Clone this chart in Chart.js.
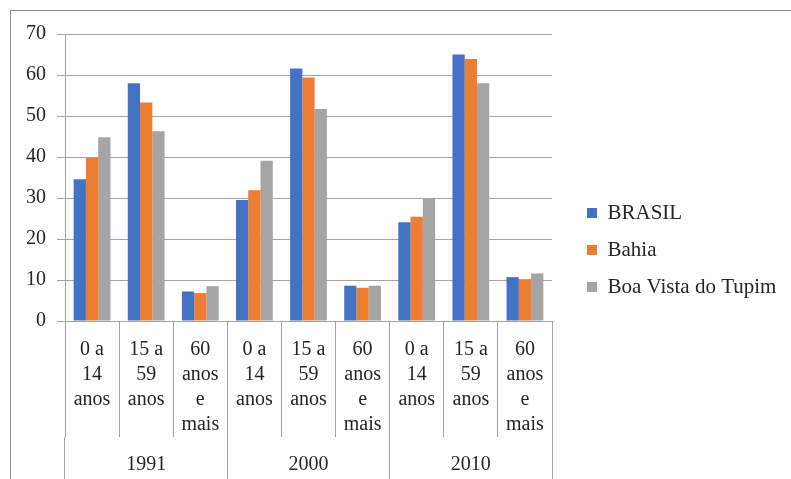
<!DOCTYPE html>
<html>
<head>
<meta charset="utf-8">
<script src="https://cdn.jsdelivr.net/npm/chart.js@4"></script>
<style>
  html, body { margin: 0; padding: 0; background: #fff; }
  #wrap { position: relative; width: 791px; height: 479px; }
</style>
</head>
<body>
<div id="wrap"><canvas id="popChart"></canvas></div>
<script>
// ==========================
// Data
// ==========================
const ageGroups = [
  ['0 a', '14', 'anos'], ['15 a', '59', 'anos'], ['60', 'anos', 'e', 'mais'],
  ['0 a', '14', 'anos'], ['15 a', '59', 'anos'], ['60', 'anos', 'e', 'mais'],
  ['0 a', '14', 'anos'], ['15 a', '59', 'anos'], ['60', 'anos', 'e', 'mais']
];
const years = ['1991', '2000', '2010'];
const brasil = [34.6, 58.0, 7.2, 29.5, 61.6, 8.6, 24.1, 65.0, 10.7];
const bahia = [39.8, 53.3, 6.8, 31.9, 59.4, 8.1, 25.4, 63.9, 10.2];
const boaVista = [44.8, 46.3, 8.5, 39.1, 51.7, 8.6, 29.9, 58.0, 11.6];
const yTicks = [0, 10, 20, 30, 40, 50, 60, 70];

const serif = "'Liberation Serif', 'DejaVu Serif', serif";
const lineGray = '#a3a3a3';
const textColor = '#262626';

Chart.defaults.font.family = serif;
Chart.defaults.color = textColor;

// ==========================
// Small plugins
// ==========================
// outer frame, like the pasted Word picture
const framePlugin = {
  id: 'frame',
  beforeDraw(chart) {
    const ctx = chart.ctx;
    ctx.save();
    ctx.strokeStyle = '#8c8c8c';
    ctx.lineWidth = 1;
    ctx.strokeRect(10.5, 10.5, chart.width + 20, chart.height + 20);
    ctx.restore();
  }
};

// legend sits a bit away from the plot; widen its box so the long label isn't clipped
const legendNudge = {
  id: 'legendNudge',
  afterLayout(chart) {
    const lg = chart.legend;
    if (!lg) return;
    lg.left += 19;
    lg.right = chart.width;
    lg.width = lg.right - lg.left;
    lg.top -= 6.5; lg.bottom -= 6.5;
  }
};

const ctx = document.getElementById('popChart').getContext('2d');
new Chart(ctx, {
  type: 'bar',
  data: {
    labels: ageGroups,
    datasets: [
      { label: 'BRASIL', data: brasil, backgroundColor: '#4472C4' },
      { label: 'Bahia', data: bahia, backgroundColor: '#ED7D31' },
      { label: 'Boa Vista do Tupim', data: boaVista, backgroundColor: '#A5A5A5' }
    ]
  },
  options: {
    responsive: true,
    maintainAspectRatio: false,
    animation: false,
    datasets: { bar: { categoryPercentage: 0.68, barPercentage: 1.0, borderWidth: 0 } },
    layout: { padding: { top: 34, left: 0, right: 55, bottom: 0 } },
    plugins: {
      tooltip: { enabled: false },
      legend: {
        position: 'right',
        labels: {
          boxWidth: 10,
          boxHeight: 10,
          padding: 16,
          color: textColor,
          font: { family: serif, size: 21 }
        }
      }
    },
    scales: {
      x: {
        position: 'bottom',
        grid: { offset: true, drawOnChartArea: false, drawTicks: true, tickLength: 116, color: lineGray },
        border: { display: true, color: lineGray },
        ticks: {
          autoSkip: false, maxRotation: 0, padding: 16.5 - 116,
          color: textColor, font: { family: serif, size: 20, lineHeight: 1.25 }
        },
        afterFit(scale) { scale.height = 116; }
      },
      x2: {
        type: 'category',
        labels: years,
        position: 'bottom',
        grid: { offset: true, drawOnChartArea: false, drawTicks: true, tickLength: 45, color: lineGray },
        border: { display: false },
        ticks: {
          autoSkip: false, maxRotation: 0, padding: -29.5,
          color: textColor, font: { family: serif, size: 20, lineHeight: 1.25 }
        },
        afterFit(scale) { scale.height = 42; }
      },
      y: {
        min: 0,
        max: 70,
        afterBuildTicks(scale) { scale.ticks = yTicks.map(v => ({ value: v })); },
        grid: { color: lineGray, tickLength: 8 },
        border: { display: true, color: lineGray },
        ticks: { padding: 11, color: textColor, font: { family: serif, size: 20 } },
        afterFit(scale) { scale.width = 65; }
      }
    }
  },
  plugins: [framePlugin, legendNudge]
});
</script>
</body>
</html>
